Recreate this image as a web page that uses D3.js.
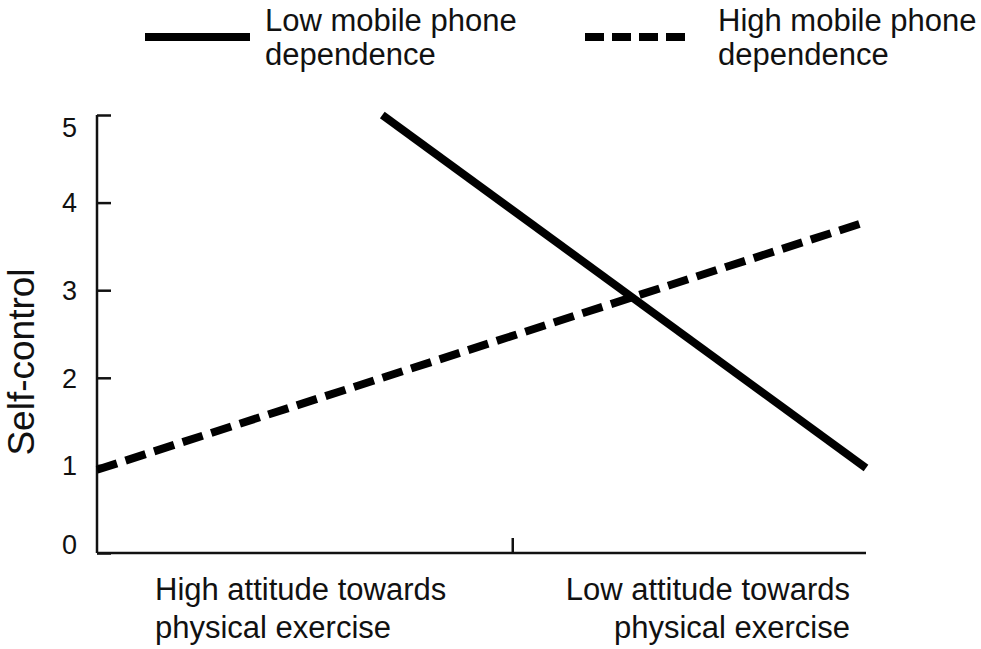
<!DOCTYPE html>
<html><head><meta charset="utf-8">
<script src="https://cdn.jsdelivr.net/npm/d3@7"></script>
<style>
body{margin:0;background:#fff;}
text{font-family:"Liberation Sans",Arial,Helvetica,sans-serif;fill:#111;}
</style></head>
<body><svg id="chart" width="981" height="649"></svg>
<script>
// ---- data ----
const seriesNames = ["Low mobile phone dependence", "High mobile phone dependence"];
const legendLines = [["Low mobile phone", "dependence"], ["High mobile phone", "dependence"]];
const categoryLabels = [["High attitude towards", "physical exercise"], ["Low attitude towards", "physical exercise"]];
const lowDepX = [0.371, 1.0];
const lowDepY = [5.0, 0.97];
const highDepX = [0.0, 1.0];
const highDepY = [0.95, 3.78];
const yTicks = [0, 1, 2, 3, 4, 5];
const yLabel = "Self-control";
const midTick = [0.54];

// ---- drawing ----
const svg = d3.select("#chart");
const x = d3.scaleLinear().domain([0, 1]).range([97, 866]);
const y = d3.scaleLinear().domain([0, 5]).range([553, 115]);

// y axis
const yAxis = d3.axisRight(y).tickValues(yTicks).tickSize(14).tickFormat("");
const gy = svg.append("g").attr("transform", `translate(${x(0)},0)`).call(yAxis);
gy.select(".domain").attr("d", `M0,${y(5)}V${y(0)}`);
gy.selectAll("line, path").attr("stroke", "#111").attr("stroke-width", 2.5);

svg.append("g").selectAll("text").data(yTicks).join("text")
  .attr("x", 77)
  .attr("y", d => y(d) + (d === 5 ? 12 : d === 0 ? -9 : 0))
  .attr("dy", "0.36em")
  .attr("text-anchor", "end")
  .attr("font-size", 27)
  .text(d => d);

// x axis
const xAxis = d3.axisTop(x).tickValues(midTick).tickSize(15).tickFormat("");
const gx = svg.append("g").attr("transform", `translate(0,${y(0)})`).call(xAxis);
gx.select(".domain").attr("d", `M${x(0)},0H${x(1)}`);
gx.selectAll("line, path").attr("stroke", "#111").attr("stroke-width", 2.5);

// category labels
const cat = svg.append("g");
cat.append("text").attr("x", 155).attr("y", 600).attr("font-size", 31)
  .selectAll("tspan").data(categoryLabels[0]).join("tspan")
  .attr("x", 155).attr("dy", (d, i) => i ? 38 : 0).text(d => d);
cat.append("text").attr("x", 850).attr("y", 600).attr("font-size", 31).attr("text-anchor", "end")
  .selectAll("tspan").data(categoryLabels[1]).join("tspan")
  .attr("x", 850).attr("dy", (d, i) => i ? 38 : 0).text(d => d);

// y label
svg.append("text").attr("transform", `translate(34,${y(2.5) + 28}) rotate(-90)`)
  .attr("text-anchor", "middle").attr("font-size", 37).text(yLabel);

// lines
const line = d3.line().x(d => x(d[0])).y(d => y(d[1]));
svg.append("path").datum(d3.zip(lowDepX, lowDepY)).attr("d", line)
  .attr("fill", "none").attr("stroke", "#000").attr("stroke-width", 8);
svg.append("path").datum(d3.zip(highDepX, highDepY)).attr("d", line)
  .attr("fill", "none").attr("stroke", "#000").attr("stroke-width", 8)
  .attr("stroke-dasharray", "21,9");

// legend
const legendItems = [
  {x1: 145, x2: 250, tx: 265, dash: null},
  {x1: 585, x2: 690, tx: 718, dash: "19,8"}
];
const lg = svg.append("g").selectAll("g").data(legendItems).join("g");
lg.append("line").attr("x1", d => d.x1).attr("x2", d => d.x2).attr("y1", 37).attr("y2", 37)
  .attr("stroke", "#000").attr("stroke-width", 8)
  .attr("stroke-dasharray", d => d.dash);
lg.each(function(d, i) {
  d3.select(this).append("text").attr("font-size", 31).attr("y", 31)
    .selectAll("tspan").data(legendLines[i]).join("tspan")
    .attr("x", d.tx).attr("dy", (t, j) => j ? 34 : 0).text(t => t);
});
</script></body></html>
